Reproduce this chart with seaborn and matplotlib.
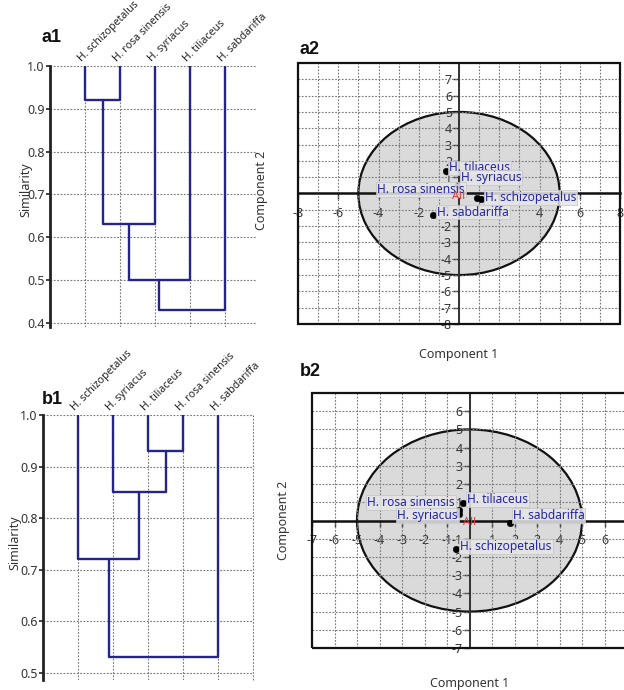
import numpy as np
import pandas as pd
import matplotlib
matplotlib.use("Agg")
import matplotlib.pyplot as plt
from matplotlib.patches import Ellipse, Rectangle
import seaborn as sns

# ---------------- data ----------------
a1_leaves = ["H. schizopetalus", "H. rosa sinensis", "H. syriacus", "H. tiliaceus", "H. sabdariffa"]
a1_merge_left = [0, 5, 6, 7]
a1_merge_right = [1, 2, 3, 4]
a1_merge_height = [0.92, 0.63, 0.50, 0.43]
a1_yticks = [0.4, 0.5, 0.6, 0.7, 0.8, 0.9, 1.0]

b1_leaves = ["H. schizopetalus", "H. syriacus", "H. tiliaceus", "H. rosa sinensis", "H. sabdariffa"]
b1_merge_left = [2, 1, 0, 7]
b1_merge_right = [3, 5, 6, 4]
b1_merge_height = [0.93, 0.85, 0.72, 0.53]
b1_yticks = [0.5, 0.6, 0.7, 0.8, 0.9, 1.0]

a2_names = ["H. tiliaceus", "H. syriacus", "H. rosa sinensis", "H. schizopetalus", "H. sabdariffa"]
a2_pc1 = [-0.66, -0.07, 0.88, 1.09, -1.28]
a2_pc2 = [1.38, 0.50, -0.27, -0.35, -1.32]

b2_names = ["H. tiliaceus", "H. rosa sinensis", "H. syriacus", "H. sabdariffa", "H. schizopetalus"]
b2_pc1 = [-0.30, -0.47, -0.47, 1.78, -0.59]
b2_pc2 = [0.97, 0.60, 0.33, -0.13, -1.59]

ellipse_radius = 5

# ---------------- style ----------------
sns.set_theme(style="white")
plt.rcParams["font.family"] = ["Noto Sans", "DejaVu Sans"]

DENDRO_COLOR = "#24248a"
LABEL_BLUE = "#2525a5"
GRID_KW = dict(color="#7a7a7a", linestyle=(0, (1.6, 1.4)), linewidth=0.8)

fig = plt.figure(figsize=(6.24, 6.9), dpi=100)
W, H = 624, 690


def px_axes(left, top, right, bottom):
    return fig.add_axes([left / W, 1 - bottom / H, (right - left) / W, (bottom - top) / H])


def dendro_segments(leaves, lefts, rights, heights):
    xs = {i: float(i + 1) for i in range(len(leaves))}
    ys = {i: 1.0 for i in range(len(leaves))}
    rows = []
    for k, (a, b, h) in enumerate(zip(lefts, rights, heights)):
        node = len(leaves) + k
        pts = [(xs[a], ys[a]), (xs[a], h), (xs[b], h), (xs[b], ys[b])]
        for (x, y) in pts:
            rows.append({"seg": k, "x": x, "y": y})
        xs[node] = (xs[a] + xs[b]) / 2
        ys[node] = h
    return pd.DataFrame(rows)


def draw_dendro(ax, leaves, lefts, rights, heights, yticks, xmax, ymin, right_vline):
    ax.set_xlim(0, xmax)
    ax.set_ylim(ymin, 1.0)
    for yv in yticks:
        ax.hlines(yv, 0, xmax, zorder=1, **GRID_KW)
    leaf_x = np.arange(1, len(leaves) + 1)
    for xv in leaf_x:
        ax.vlines(xv, ymin, 1.0, zorder=1, **GRID_KW)
    if right_vline:
        ax.vlines(xmax, ymin, 1.0, zorder=1, clip_on=False, **GRID_KW)
    df = dendro_segments(leaves, lefts, rights, heights)
    sns.lineplot(data=df, x="x", y="y", units="seg", estimator=None, sort=False,
                 color=DENDRO_COLOR, linewidth=1.7, ax=ax, zorder=3, legend=False)
    for xv, name in zip(leaf_x, leaves):
        ax.annotate(name, (xv, 1.0), xytext=(-1, 2), textcoords="offset pixels",
                    rotation=45, rotation_mode="anchor", ha="left", va="bottom",
                    fontsize=7.6, color="#222222", annotation_clip=False)
    for s in ["top", "right", "bottom"]:
        ax.spines[s].set_visible(False)
    ax.spines["left"].set_color("#222222")
    ax.spines["left"].set_linewidth(2.0)
    ax.set_yticks(yticks)
    ax.set_yticklabels([f"{v:.1f}" for v in yticks])
    ax.set_xticks([])
    ax.tick_params(axis="y", which="both", left=True, direction="out", length=3,
                   width=1.2, color="#222222", pad=1, labelsize=9, labelcolor="#333333")
    ax.set_xlabel("")
    ax.set_ylabel("Similarity", fontsize=9, color="#333333")


def draw_pca(ax, names, pc1, pc2, lim, xticks, yticks, offsets, all_dy):
    ax.set_xlim(-lim, lim)
    ax.set_ylim(-lim, lim)
    ax.add_patch(Ellipse((0, 0), 2 * ellipse_radius, 2 * ellipse_radius,
                         facecolor="#dadada", edgecolor="#111111", linewidth=1.6, zorder=0.5))
    for v in range(-lim + 1, lim):
        ax.axvline(v, zorder=1, **GRID_KW)
        ax.axhline(v, zorder=1, **GRID_KW)
    for s in ["top", "right"]:
        ax.spines[s].set_visible(False)
    ax.spines["left"].set_position(("data", 0))
    ax.spines["bottom"].set_position(("data", 0))
    ax.spines["left"].set_color("#333333")
    ax.spines["left"].set_linewidth(1.4)
    ax.spines["bottom"].set_color("#111111")
    ax.spines["bottom"].set_linewidth(1.8)
    ax.spines["left"].set_zorder(2)
    ax.spines["bottom"].set_zorder(2)
    ax.add_patch(Rectangle((0, 0), 1, 1, transform=ax.transAxes, fill=False,
                           edgecolor="#111111", linewidth=1.6, zorder=5, clip_on=False))
    ax.set_xticks(xticks)
    ax.set_yticks(yticks)
    ax.set_xticklabels([str(v) for v in xticks])
    ax.set_yticklabels([str(v) for v in yticks])
    ax.tick_params(axis="x", direction="out", length=4, width=1, color="#333333",
                   pad=6, labelsize=9, labelcolor="#333333", bottom=True)
    ax.tick_params(axis="y", direction="out", length=4, width=1, color="#333333",
                   pad=1, labelsize=9, labelcolor="#333333", left=True)
    df = pd.DataFrame({"pc1": pc1, "pc2": pc2, "name": names})
    sns.scatterplot(data=df, x="pc1", y="pc2", color="black", s=22, edgecolor="black",
                    ax=ax, zorder=4, legend=False)
    for x, y, n in zip(pc1, pc2, names):
        dx, dy, ha = offsets[n]
        ax.annotate(n, (x, y), xytext=(dx, dy), textcoords="offset pixels",
                    ha=ha, va="center", fontsize=8.6, color=LABEL_BLUE, zorder=6,
                    bbox=dict(boxstyle="square,pad=0.08", facecolor="#e6e6e6",
                              edgecolor="#c4c4c4", linewidth=0.6, alpha=0.85))
    ax.annotate("All", (0, 0), xytext=(0, all_dy), textcoords="offset pixels",
                ha="center", va="center", fontsize=8, color="#e03a3a", zorder=6)
    ax.set_xlabel("")
    ax.set_ylabel("")


# ---------------- a1 ----------------
ax_a1 = px_axes(50, 66, 257, 327)
draw_dendro(ax_a1, a1_leaves, a1_merge_left, a1_merge_right, a1_merge_height,
            a1_yticks, 5.91, 0.39, False)
ax_a1.yaxis.set_label_coords(-0.083, 0.525)

# ---------------- b1 ----------------
ax_b1 = px_axes(43, 415, 253, 680)
draw_dendro(ax_b1, b1_leaves, b1_merge_left, b1_merge_right, b1_merge_height,
            b1_yticks, 6.0, 0.486, True)
ax_b1.yaxis.set_label_coords(-0.105, 0.52)

# ---------------- a2 ----------------
ax_a2 = px_axes(298, 63, 620, 324)
a2_offsets = {
    "H. tiliaceus": (3, 3, "left"),
    "H. syriacus": (3, 8, "left"),
    "H. rosa sinensis": (-12, 8, "right"),
    "H. schizopetalus": (4, 2, "left"),
    "H. sabdariffa": (4, 3, "left"),
}
draw_pca(ax_a2, a2_names, a2_pc1, a2_pc2, 8,
         [-8, -6, -4, -2, 2, 4, 6, 8],
         [v for v in range(-8, 8) if v != 0],
         a2_offsets, -3)
fig.text(262 / W, 1 - 190 / H, "Component 2", rotation=90, ha="center", va="center",
         fontsize=9, color="#333333")
fig.text(459 / W, 1 - 355 / H, "Component 1", ha="center", va="center",
         fontsize=9, color="#333333")

# ---------------- b2 ----------------
ax_b2 = px_axes(312, 393, 627, 648)
b2_offsets = {
    "H. tiliaceus": (4, 3, "left"),
    "H. rosa sinensis": (-4, 7, "right"),
    "H. syriacus": (-1, -1, "right"),
    "H. sabdariffa": (3, 7, "left"),
    "H. schizopetalus": (4, 3, "left"),
}
draw_pca(ax_b2, b2_names, b2_pc1, b2_pc2, 7,
         [v for v in range(-7, 7) if v != 0],
         [v for v in range(-7, 7) if v != 0],
         b2_offsets, -2)
fig.text(283 / W, 1 - 520 / H, "Component 2", rotation=90, ha="center", va="center",
         fontsize=9, color="#333333")
fig.text(470 / W, 1 - 683 / H, "Component 1", ha="center", va="center",
         fontsize=9, color="#333333")

# ---------------- panel labels ----------------
for lbl, x, y in [("a1", 42, 38), ("a2", 300, 50), ("b1", 42, 400), ("b2", 300, 371)]:
    fig.text(x / W, 1 - y / H, lbl, ha="left", va="center", fontsize=13,
             fontweight="bold", family=["Liberation Sans", "DejaVu Sans"], color="#111111")

fig.savefig("out.png", dpi=100)
